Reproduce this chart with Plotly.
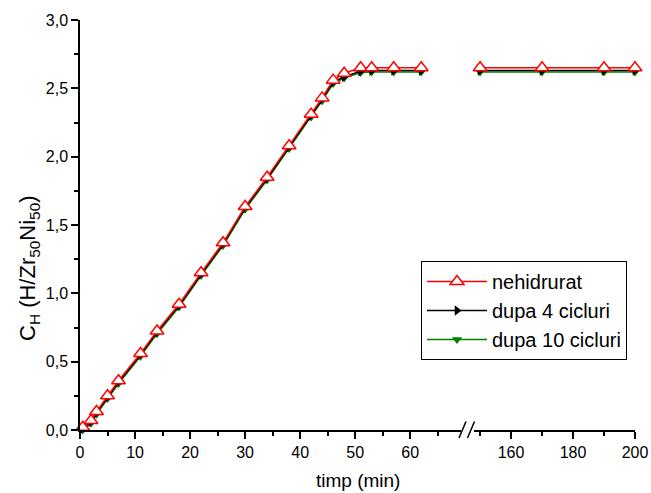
import plotly.graph_objects as go

# ---- data ----
t_ramp = [0.5, 2, 3, 5, 7, 11, 14, 18, 22, 26, 30, 34, 38, 42, 44, 46, 48, 51, 53, 57, 62]
c_nehidrurat = [0.02, 0.07, 0.135, 0.25, 0.36, 0.56, 0.725, 0.92, 1.15, 1.37, 1.635, 1.85, 2.08,
                2.31, 2.43, 2.56, 2.61, 2.65, 2.65, 2.65, 2.65]
c_dupa4 = [0.01, 0.06, 0.125, 0.24, 0.35, 0.55, 0.715, 0.91, 1.14, 1.36, 1.625, 1.84, 2.07,
           2.30, 2.42, 2.545, 2.585, 2.625, 2.63, 2.63, 2.63]
c_dupa10 = [0.0, 0.05, 0.115, 0.23, 0.34, 0.54, 0.705, 0.90, 1.13, 1.35, 1.615, 1.83, 2.06,
            2.29, 2.41, 2.535, 2.575, 2.615, 2.62, 2.62, 2.62]
t_late = [150, 170, 190, 200]
c_nehidrurat_late = [2.65, 2.65, 2.65, 2.65]
c_dupa4_late = [2.63, 2.63, 2.63, 2.63]
c_dupa10_late = [2.62, 2.62, 2.62, 2.62]

names = ["nehidrurat", "dupa 4 cicluri", "dupa 10 cicluri"]
x_ticks1 = [0, 10, 20, 30, 40, 50, 60]
x_ticks2 = [160, 180, 200]

FONT = "Arial, Liberation Sans, sans-serif"

series = [
    (names[2], c_dupa10, c_dupa10_late, "#008000",
     dict(symbol="triangle-down", size=9, color="#008000"), 3),
    (names[1], c_dupa4, c_dupa4_late, "#000000",
     dict(symbol="triangle-right", size=9, color="#000000"), 2),
    (names[0], c_nehidrurat, c_nehidrurat_late, "#ff0000",
     dict(symbol="triangle-up", size=12, color="white", line=dict(color="#ff0000", width=1.5)), 1),
]

fig = go.Figure()
for name, c1, c2, col, mk, rank in series:
    fig.add_trace(go.Scatter(x=t_ramp, y=c1, mode="lines+markers", name=name,
                             line=dict(color=col, width=1.5), marker=mk,
                             legendrank=rank, cliponaxis=False, xaxis="x", yaxis="y"))
    fig.add_trace(go.Scatter(x=t_late, y=c2, mode="lines+markers", name=name,
                             line=dict(color=col, width=1.5), marker=mk, showlegend=False,
                             cliponaxis=False, xaxis="x2", yaxis="y"))

W, H = 651, 493
PL, PR, PT, PB = 80, 635, 20, 430          # plot area in window pixels
L, T = PL, PT
R, B = W - PR, H - PB
pw, ph = PR - PL, PB - PT
brk_px = 468
d1 = (brk_px - PL) / pw


def px_x(p):
    return (p - PL) / pw


def px_y(p):
    return (PB - p) / ph


axis_common = dict(showline=True, linecolor="black", linewidth=1.5, ticks="outside",
                   ticklen=7, tickwidth=1.5, tickcolor="black", showgrid=False, zeroline=False,
                   tickfont=dict(family=FONT, size=16, color="black"))

fig.update_layout(
    width=W, height=H, margin=dict(l=L, r=R, t=T, b=B, autoexpand=False),
    plot_bgcolor="white", paper_bgcolor="white",
    separators=", ",
    xaxis=dict(domain=[0, d1], range=[0, 70.5], tickvals=x_ticks1,
               minor=dict(tickvals=[5, 15, 25, 35, 45, 55, 65], ticklen=4, tickwidth=1.5,
                          tickcolor="black", ticks="outside"),
               **axis_common),
    xaxis2=dict(domain=[d1, 1], range=[146.1, 200], tickvals=x_ticks2,
                minor=dict(tickvals=[150, 170, 190], ticklen=4, tickwidth=1.5,
                           tickcolor="black", ticks="outside"),
                anchor="y", **axis_common),
    yaxis=dict(range=[0, 3], dtick=0.5, tickformat=".1f",
               minor=dict(dtick=0.25, ticklen=4, tickwidth=1.5, tickcolor="black",
                          ticks="outside"),
               **axis_common),
    legend=dict(x=px_x(421), y=px_y(261), xanchor="left", yanchor="top",
                bordercolor="black", borderwidth=1, bgcolor="white",
                font=dict(family=FONT, size=20, color="black"), tracegroupgap=0,
                itemwidth=60),
    showlegend=True,
)

# axis titles
fig.add_annotation(text="timp (min)", xref="paper", yref="paper", x=0.5, y=px_y(480),
                   showarrow=False, font=dict(family=FONT, size=19, color="black"),
                   xanchor="center", yanchor="middle")
fig.add_annotation(text="C<sub>H</sub> (H/Zr<sub>50</sub>Ni<sub>50</sub>)", xref="paper", yref="paper",
                   x=px_x(29), y=px_y(268), textangle=-90, showarrow=False,
                   font=dict(family=FONT, size=22, color="black"),
                   xanchor="center", yanchor="middle")

# axis break marks
fig.add_shape(type="rect", xref="paper", yref="paper", x0=px_x(461), x1=px_x(474),
              y0=px_y(433), y1=px_y(427), fillcolor="white", line=dict(width=0), layer="above")
fig.add_shape(type="line", xref="paper", yref="paper", x0=px_x(459), y0=px_y(438),
              x1=px_x(466), y1=px_y(421.5), line=dict(color="black", width=1.5), layer="above")
fig.add_shape(type="line", xref="paper", yref="paper", x0=px_x(467.5), y0=px_y(438),
              x1=px_x(474.5), y1=px_y(421.5), line=dict(color="black", width=1.5), layer="above")

fig.write_html("out.html", config={"displayModeBar": False},
               post_script="document.body.style.margin='0';document.body.style.overflow='hidden';")
